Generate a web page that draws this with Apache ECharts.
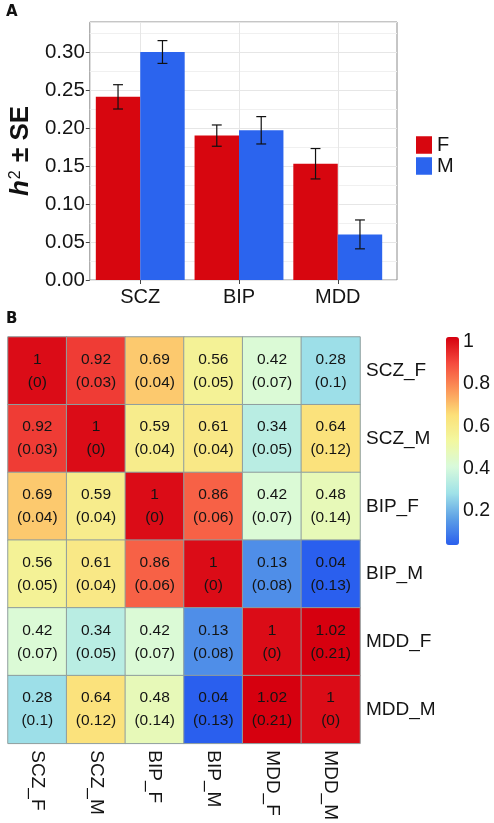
<!DOCTYPE html>
<html><head><meta charset="utf-8">
<script src="https://cdn.jsdelivr.net/npm/echarts@6/dist/echarts.min.js"></script>
<style>html,body{margin:0;padding:0;background:#fff}#c{width:494px;height:823px}</style>
</head><body><div id="c"></div>
<script>
// ---- Panel A data ----
const groups = ['SCZ', 'BIP', 'MDD'];
const h2F = [0.241, 0.190, 0.153];
const seF = [0.016, 0.014, 0.020];
const h2M = [0.300, 0.197, 0.060];
const seM = [0.015, 0.018, 0.019];
const sexNames = ['F', 'M'];

// ---- Panel B data ----
const traits = ['SCZ_F', 'SCZ_M', 'BIP_F', 'BIP_M', 'MDD_F', 'MDD_M'];
const rg = [
  [1, 0.92, 0.69, 0.56, 0.42, 0.28],
  [0.92, 1, 0.59, 0.61, 0.34, 0.64],
  [0.69, 0.59, 1, 0.86, 0.42, 0.48],
  [0.56, 0.61, 0.86, 1, 0.13, 0.04],
  [0.42, 0.34, 0.42, 0.13, 1, 1.02],
  [0.28, 0.64, 0.48, 0.04, 1.02, 1]
];
const rgSE = [
  [0, 0.03, 0.04, 0.05, 0.07, 0.1],
  [0.03, 0, 0.04, 0.04, 0.05, 0.12],
  [0.04, 0.04, 0, 0.06, 0.07, 0.14],
  [0.05, 0.04, 0.06, 0, 0.08, 0.13],
  [0.07, 0.05, 0.07, 0.08, 0, 0.21],
  [0.1, 0.12, 0.14, 0.13, 0.21, 0]
];
const colorbarTicks = [0.2, 0.4, 0.6, 0.8, 1];
const colorMin = 0.04, colorMax = 1.02;

const FONT = 'Liberation Sans';
const TXT = '#141414';
const RED = '#d7060f';
const BLUE = '#2b64ee';

const heatData = [];
rg.forEach((row, r) => row.forEach((v, c) => heatData.push([c, r, v, rgSE[r][c]])));

function errSeries(name, vals, ses, side) {
  return {
    type: 'custom', name: name + '_err', xAxisIndex: 1, yAxisIndex: 1, z: 10, clip: false,
    data: groups.map((g, i) => [i, vals[i], ses[i]]),
    renderItem: function (params, api) {
      const i = api.value(0), v = api.value(1), e = api.value(2);
      const bw = api.size([1, 0])[0];
      const cx = api.coord([i, v])[0] + side * bw * 0.225;
      const yt = api.coord([i, v + e])[1], yb = api.coord([i, v - e])[1];
      const cap = bw * 0.05;
      const st = { stroke: '#111', lineWidth: 1.2 };
      return { type: 'group', children: [
        { type: 'line', shape: { x1: cx, y1: yt, x2: cx, y2: yb }, style: st },
        { type: 'line', shape: { x1: cx - cap, y1: yt, x2: cx + cap, y2: yt }, style: st },
        { type: 'line', shape: { x1: cx - cap, y1: yb, x2: cx + cap, y2: yb }, style: st }
      ]};
    }
  };
}

const chart = echarts.init(document.getElementById('c'), null, { renderer: 'canvas' });
chart.setOption({
  animation: false,
  textStyle: { fontFamily: FONT },
  title: [
    { text: 'A', left: 6, top: 5, padding: 0, textStyle: { fontFamily: 'DejaVu Sans', fontSize: 15, fontWeight: 'bold', color: '#111' } },
    { text: 'B', left: 6, top: 312, padding: 0, textStyle: { fontFamily: 'DejaVu Sans', fontSize: 15, fontWeight: 'bold', color: '#111' } }
  ],
  legend: {
    data: sexNames, orient: 'vertical', left: 416, top: 135, padding: 0,
    icon: 'rect', itemWidth: 16, itemHeight: 17.5, itemGap: 1,
    textStyle: { fontSize: 20, color: TXT, fontFamily: FONT }
  },
  grid: [
    { left: 81, top: 22, width: 316, height: 258, show: true, borderColor: '#8c8c8c', borderWidth: 1, backgroundColor: 'transparent' },
    { left: 140.25, top: 22, width: 197.5, height: 258 },
    { left: 446, top: 337, width: 13, height: 208 },
    { left: 8, top: 337, width: 352, height: 408 }
  ],
  xAxis: [
    { gridIndex: 0, type: 'value', min: 0, max: 1, show: false },
    { gridIndex: 1, type: 'category', data: groups, boundaryGap: false,
      axisLine: { show: false },
      axisTick: { show: true, length: 4, lineStyle: { color: '#444' } },
      splitLine: { show: true, lineStyle: { color: '#e6e6e6', width: 1 } },
      axisLabel: { fontSize: 20, color: TXT, margin: 7, fontFamily: FONT } },
    { gridIndex: 2, type: 'value', min: 0, max: 1, show: false },
    { gridIndex: 3, type: 'category', data: traits,
      axisLine: { show: false }, axisTick: { show: false }, splitLine: { show: false },
      axisLabel: { rotate: -90, fontSize: 19, color: TXT, margin: 7, fontFamily: FONT } }
  ],
  yAxis: [
    { gridIndex: 0, type: 'value', min: 0, max: 0.3395, interval: 0.05,
      name: '{h|h}{s|2}{t| ± SE}', nameLocation: 'middle', nameRotate: 90, nameGap: 54,
      nameTextStyle: { rich: {
        h: { fontSize: 26, fontWeight: 'bold', fontStyle: 'italic', color: '#111', fontFamily: FONT },
        s: { fontSize: 16, color: '#111', verticalAlign: 'top', fontFamily: FONT, padding: [0, 1, 8, 1] },
        t: { fontSize: 26, fontWeight: 'bold', color: '#111', fontFamily: FONT }
      } },
      axisLine: { show: false },
      axisTick: { show: true, length: 4, lineStyle: { color: '#444' } },
      axisLabel: { fontSize: 20.5, color: TXT, margin: 5, showMaxLabel: false, fontFamily: FONT,
        formatter: v => v.toFixed(2) },
      splitLine: { show: true, lineStyle: { color: '#e6e6e6', width: 1 } },
      minorTick: { show: false, splitNumber: 2 },
      minorSplitLine: { show: true, lineStyle: { color: '#f0f0f0', width: 1 } } },
    { gridIndex: 1, type: 'value', min: 0, max: 0.3395, show: false },
    { gridIndex: 2, type: 'value', min: colorMin, max: colorMax, position: 'right',
      axisLine: { show: false }, axisTick: { show: false }, splitLine: { show: false },
      axisLabel: { customValues: colorbarTicks, fontSize: 19.5, color: TXT, margin: 4, fontFamily: FONT } },
    { gridIndex: 3, type: 'category', data: traits, inverse: true, position: 'right',
      axisLine: { show: false }, axisTick: { show: false }, splitLine: { show: false },
      axisLabel: { fontSize: 19, color: TXT, margin: 6, fontFamily: FONT } }
  ],
  visualMap: {
    type: 'continuous', seriesIndex: 4, dimension: 2,
    min: colorMin, max: colorMax, calculable: false, show: true,
    left: 446, top: 337, itemWidth: 13, itemHeight: 208, padding: 0, text: null,
    inRange: { color: ['#2a5fee', '#5c9fe6', '#a0e2e8', '#d8fadc', '#f2f8a0', '#fce078', '#fc9458', '#f54a3e', '#d6000f'] }
  },
  series: [
    { type: 'bar', name: 'F', xAxisIndex: 1, yAxisIndex: 1, data: h2F, clip: false,
      barGap: 0, barCategoryGap: '10%', itemStyle: { color: RED } },
    { type: 'bar', name: 'M', xAxisIndex: 1, yAxisIndex: 1, data: h2M, clip: false,
      barGap: 0, barCategoryGap: '10%', itemStyle: { color: BLUE } },
    errSeries('F', h2F, seF, -1),
    errSeries('M', h2M, seM, 1),
    { type: 'heatmap', xAxisIndex: 3, yAxisIndex: 3, data: heatData,
      label: { show: true, fontSize: 15.5, lineHeight: 23, color: TXT, fontFamily: FONT,
        formatter: p => p.value[2] + '\n(' + p.value[3] + ')' },
      itemStyle: { borderColor: '#8f9e9e', borderWidth: 1 } }
  ]
});
</script>
</body></html>
